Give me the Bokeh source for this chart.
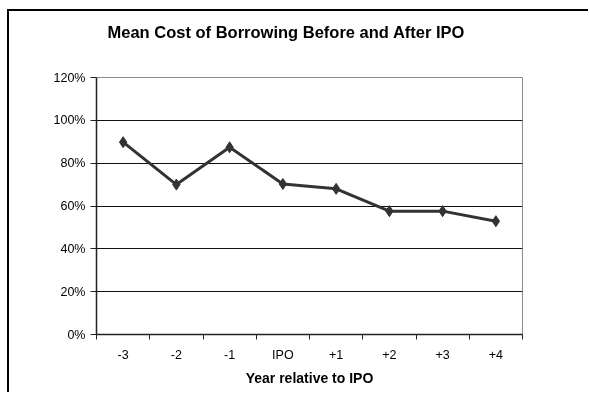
from bokeh.plotting import figure
from bokeh.models import Range1d, FixedTicker, NumeralTickFormatter, ColumnDataSource, Title
from bokeh.embed import file_html
from bokeh.resources import INLINE

# ---- data ----
years = ["-3", "-2", "-1", "IPO", "+1", "+2", "+3", "+4"]
mean_cost = [0.898, 0.700, 0.874, 0.703, 0.680, 0.576, 0.576, 0.529]
y_ticks = [0.0, 0.2, 0.4, 0.6, 0.8, 1.0, 1.2]
grid_ticks = [0.2, 0.4, 0.6, 0.8, 1.0]
title_text = "Mean Cost of Borrowing Before and After IPO"
x_label = "Year relative to IPO"

FONT = "Liberation Sans"
OX, OY = 9, 11  # canvas origin inside the page (after offset + border)
W, H = 590 - OX, 394 - OY

n = len(years)
centers = [i + 0.5 for i in range(n)]          # category slots on the x scale
bounds = [float(i) for i in range(n + 1)]      # category boundaries (tick marks)

source = ColumnDataSource(data=dict(x=centers, year=years, cost=mean_cost))

p = figure(width=W, height=H,
           x_range=Range1d(0, n),
           y_range=Range1d(0, 1.2),
           output_backend="svg", toolbar_location=None,
           min_border_left=96 - OX, min_border_right=OX + W - 522,
           min_border_top=77 - OY, min_border_bottom=OY + H - 334,
           styles={"position": "fixed", "left": "7px", "top": "9px",
                   "border-left": "2px solid #000000",
                   "border-top": "2px solid #000000",
                   "overflow": "hidden"})

p.background_fill_color = "white"
p.border_fill_color = "white"
p.outline_line_color = "#8c8c8c"
p.outline_line_width = 1

# title (a thin spacer panel sits between it and the plot area)
p.add_layout(Title(text=" ", text_font_size="1px", standoff=34), "above")
p.title.text = title_text
p.title.text_font = FONT
p.title.text_font_size = "16.5px"
p.title.text_font_style = "bold"
p.title.text_color = "black"
p.title.align = "left"
p.title.offset = 11
p.title.standoff = 0

# y axis
ya = p.yaxis[0]
ya.ticker = FixedTicker(ticks=y_ticks)
ya.formatter = NumeralTickFormatter(format="0%")
ya.major_tick_out = 6
ya.major_tick_in = 0
ya.minor_tick_line_color = None
ya.axis_line_color = "#222222"
ya.axis_line_width = 1.5
ya.major_tick_line_color = "#222222"
ya.major_label_text_font = FONT
ya.major_label_text_font_size = "12.5px"
ya.major_label_text_color = "black"
ya.major_label_standoff = 5

# grid
p.xgrid.grid_line_color = None
p.ygrid.ticker = FixedTicker(ticks=grid_ticks)
p.ygrid.grid_line_color = "#111111"
p.ygrid.grid_line_width = 1

# x axis: labels at slot centres, tick marks at slot boundaries
xa = p.xaxis[0]
xa.ticker = FixedTicker(ticks=centers, minor_ticks=bounds)
xa.major_label_overrides = {c: y for c, y in zip(centers, years)}
xa.major_tick_out = 0
xa.major_tick_in = 0
xa.minor_tick_out = 5
xa.minor_tick_in = 0
xa.minor_tick_line_color = "#222222"
xa.axis_line_color = "#222222"
xa.axis_line_width = 1.5
xa.major_label_standoff = 8
xa.major_label_text_font = FONT
xa.major_label_text_font_size = "12.5px"
xa.major_label_text_color = "black"
xa.axis_label = x_label
xa.axis_label_text_font = FONT
xa.axis_label_text_font_size = "14px"
xa.axis_label_text_font_style = "bold"
xa.axis_label_text_color = "black"
xa.axis_label_standoff = 5

# series
p.line(x="x", y="cost", source=source, line_color="#333333", line_width=3)
p.scatter(x="x", y="cost", source=source, marker="diamond", size=11,
          fill_color="#333333", line_color="#333333")

open("out.html", "w").write(file_html(p, INLINE))
